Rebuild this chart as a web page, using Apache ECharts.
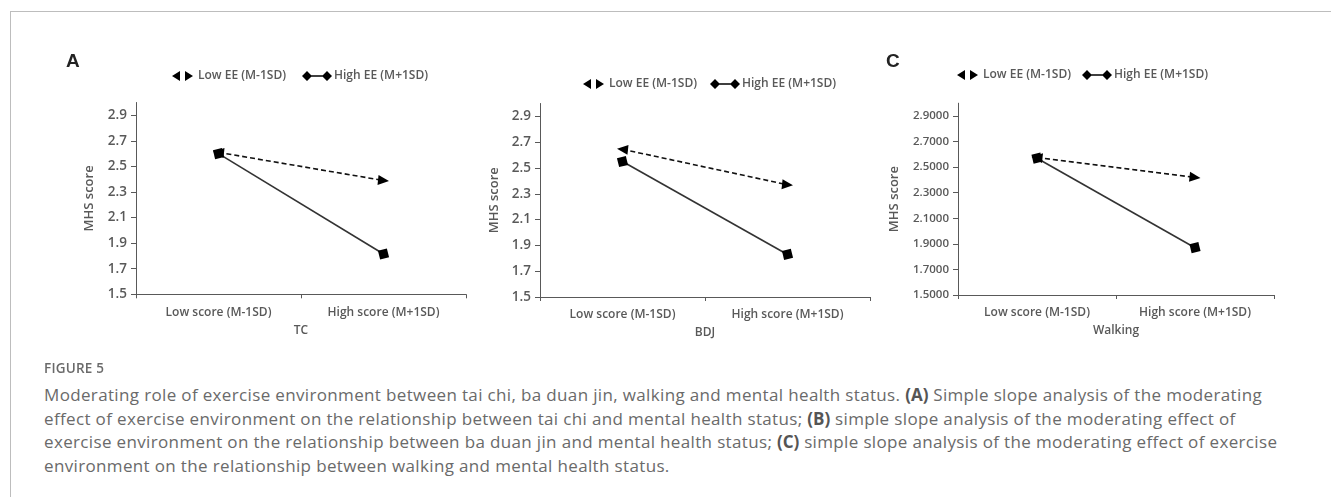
<!DOCTYPE html>
<html>
<head>
<meta charset="utf-8">
<script src="https://cdn.jsdelivr.net/npm/echarts@6/dist/echarts.min.js"></script>
<style>
  html, body { margin:0; padding:0; background:#fff; }
  #wrap { position:relative; width:1331px; height:497px; overflow:hidden; }
  #chart { position:absolute; left:0; top:0; width:1331px; height:360px; }
  #frameTop { position:absolute; left:10px; top:11px; width:1321px; height:0; border-top:1px solid #bdbdbd; }
  #frameLeft { position:absolute; left:10px; top:11px; width:0; height:486px; border-left:1px solid #bdbdbd; }
  #figlabel { position:absolute; left:44px; top:359px; font-family:"Open Sans", sans-serif; font-size:13.5px; font-weight:600; color:#6a6a6a; letter-spacing:0.2px; }
  #caption { position:absolute; left:44px; top:383px; font-family:"Open Sans", sans-serif; font-size:17px; letter-spacing:0.35px; line-height:23.5px; color:#6a6a6a; white-space:nowrap; }
  #caption b { color:#555; font-weight:700; letter-spacing:0; }
</style>
</head>
<body>
<div id="wrap">
  <div id="chart"></div>
  <div id="frameTop"></div>
  <div id="frameLeft"></div>
  <div id="figlabel">FIGURE 5</div>
  <div id="caption">Moderating role of exercise environment between tai chi, ba duan jin, walking and mental health status. <b>(A)</b> Simple slope analysis of the moderating<br>effect of exercise environment on the relationship between tai chi and mental health status; <b>(B)</b> simple slope analysis of the moderating effect of<br>exercise environment on the relationship between ba duan jin and mental health status; <b>(C)</b> simple slope analysis of the moderating effect of exercise<br>environment on the relationship between walking and mental health status.</div>
</div>
<script>
// ---- data ----
var categories = ['Low score (M-1SD)', 'High score (M+1SD)'];
var seriesNames = ['Low EE (M-1SD)', 'High EE (M+1SD)'];
var panelLabels = ['A', '', 'C'];
var xNames = ['TC', 'BDJ', 'Walking'];
var yName = 'MHS score';
var yTicks = [1.5, 1.7, 1.9, 2.1, 2.3, 2.5, 2.7, 2.9];
var yMin = 1.5, yMax = 3.0;
var lowEE_A = [2.61, 2.39];
var highEE_A = [2.60, 1.815];
var lowEE_B = [2.645, 2.37];
var highEE_B = [2.55, 1.83];
var lowEE_C = [2.575, 2.42];
var highEE_C = [2.57, 1.87];
var decimals = [1, 1, 4];

// ---- layout (styles only) ----
var grids = [
  { left: 136, top: 102.5, width: 330, height: 191.8 },
  { left: 540, top: 103.5, width: 330, height: 193.5 },
  { left: 958, top: 103.2, width: 316, height: 191.8 }
];
var yNameGap = [40, 39, 57];
var yLabelSize = [13.5, 13.5, 11.5];
var legendPos = [
  { low: [172, 78], high: [302, 78] },
  { low: [583, 86], high: [710, 86] },
  { low: [957, 77], high: [1082, 77] }
];
var lowData = [lowEE_A, lowEE_B, lowEE_C];
var highData = [highEE_A, highEE_B, highEE_C];

var txt = '#595959';
var font = '"Open Sans", sans-serif';
var lowIcon = 'path://M0,5L8,0L8,10Z M13,0L21,5L13,10Z';
var highIcon = 'path://M0,5L5,0L10,5L5,10Z M20,5L25,0L30,5L25,10Z M8,4.3H22V5.7H8Z';

var option = {
  animation: false,
  grid: [], xAxis: [], yAxis: [], series: [], legend: [], graphic: []
};

for (var p = 0; p < 3; p++) {
  option.grid.push(grids[p]);
  option.xAxis.push({
    type: 'category', gridIndex: p, data: categories, boundaryGap: true,
    name: xNames[p], nameLocation: 'middle', nameGap: 30,
    nameTextStyle: { color: txt, fontFamily: font, fontSize: 12, fontWeight: 600 },
    axisLine: { lineStyle: { color: '#595959', width: 1 } },
    axisTick: { show: true, length: 4, lineStyle: { color: '#595959' } },
    axisLabel: { color: txt, fontFamily: font, fontSize: 12, fontWeight: 600, margin: 12 },
    splitLine: { show: false }
  });
  (function (d) {
    option.yAxis.push({
      type: 'value', gridIndex: p, min: yMin, max: yMax,
      name: yName, nameLocation: 'middle', nameGap: yNameGap[p],
      nameTextStyle: { color: txt, fontFamily: font, fontSize: 13, fontWeight: 600 },
      axisLine: { show: true, lineStyle: { color: '#595959', width: 1 } },
      axisTick: { show: true, length: 5, customValues: yTicks, lineStyle: { color: '#595959' } },
      axisLabel: { color: txt, fontFamily: font, fontSize: yLabelSize[p], fontWeight: 600, margin: 9,
        customValues: yTicks, formatter: function (v) { return Number(v).toFixed(d); } },
      splitLine: { show: false }
    });
  })(decimals[p]);
  option.series.push({
    type: 'line', name: seriesNames[0], xAxisIndex: p, yAxisIndex: p,
    data: lowData[p].map(function (v, i) { return { value: v, symbolRotate: i === 0 ? 84 : -96 }; }),
    symbol: 'triangle', symbolSize: [10, 11],
    lineStyle: { color: '#111', width: 1.6, type: [5, 3] },
    itemStyle: { color: '#000' }, z: 3
  });
  option.series.push({
    type: 'line', name: seriesNames[1], xAxisIndex: p, yAxisIndex: p,
    data: highData[p], symbol: 'diamond', symbolSize: 13, symbolRotate: -31,
    lineStyle: { color: '#333', width: 1.6 },
    itemStyle: { color: '#000' }, z: 2
  });
  option.legend.push({
    data: [{ name: seriesNames[0], icon: lowIcon }],
    left: legendPos[p].low[0], top: legendPos[p].low[1] - 8, padding: 0,
    itemWidth: 21, itemHeight: 10, itemGap: 0,
    textStyle: { color: txt, fontFamily: font, fontSize: 12, fontWeight: 600 },
    itemStyle: { color: '#000' }
  });
  option.legend.push({
    data: [{ name: seriesNames[1], icon: highIcon }],
    left: legendPos[p].high[0], top: legendPos[p].high[1] - 8, padding: 0,
    itemWidth: 30, itemHeight: 10, itemGap: 0,
    textStyle: { color: txt, fontFamily: font, fontSize: 12, fontWeight: 600, padding: [0, 0, 0, -3] },
    itemStyle: { color: '#000' }
  });
}
option.graphic.push({ type: 'text', left: 66, top: 52, style: { text: panelLabels[0], font: 'bold 19px "Liberation Sans", Arial, sans-serif', fill: '#222' } });
option.graphic.push({ type: 'text', left: 886, top: 52, style: { text: panelLabels[2], font: 'bold 19px "Liberation Sans", Arial, sans-serif', fill: '#222' } });

var chart = echarts.init(document.getElementById('chart'), null, { renderer: 'canvas' });
chart.setOption(option);
</script>
</body>
</html>
